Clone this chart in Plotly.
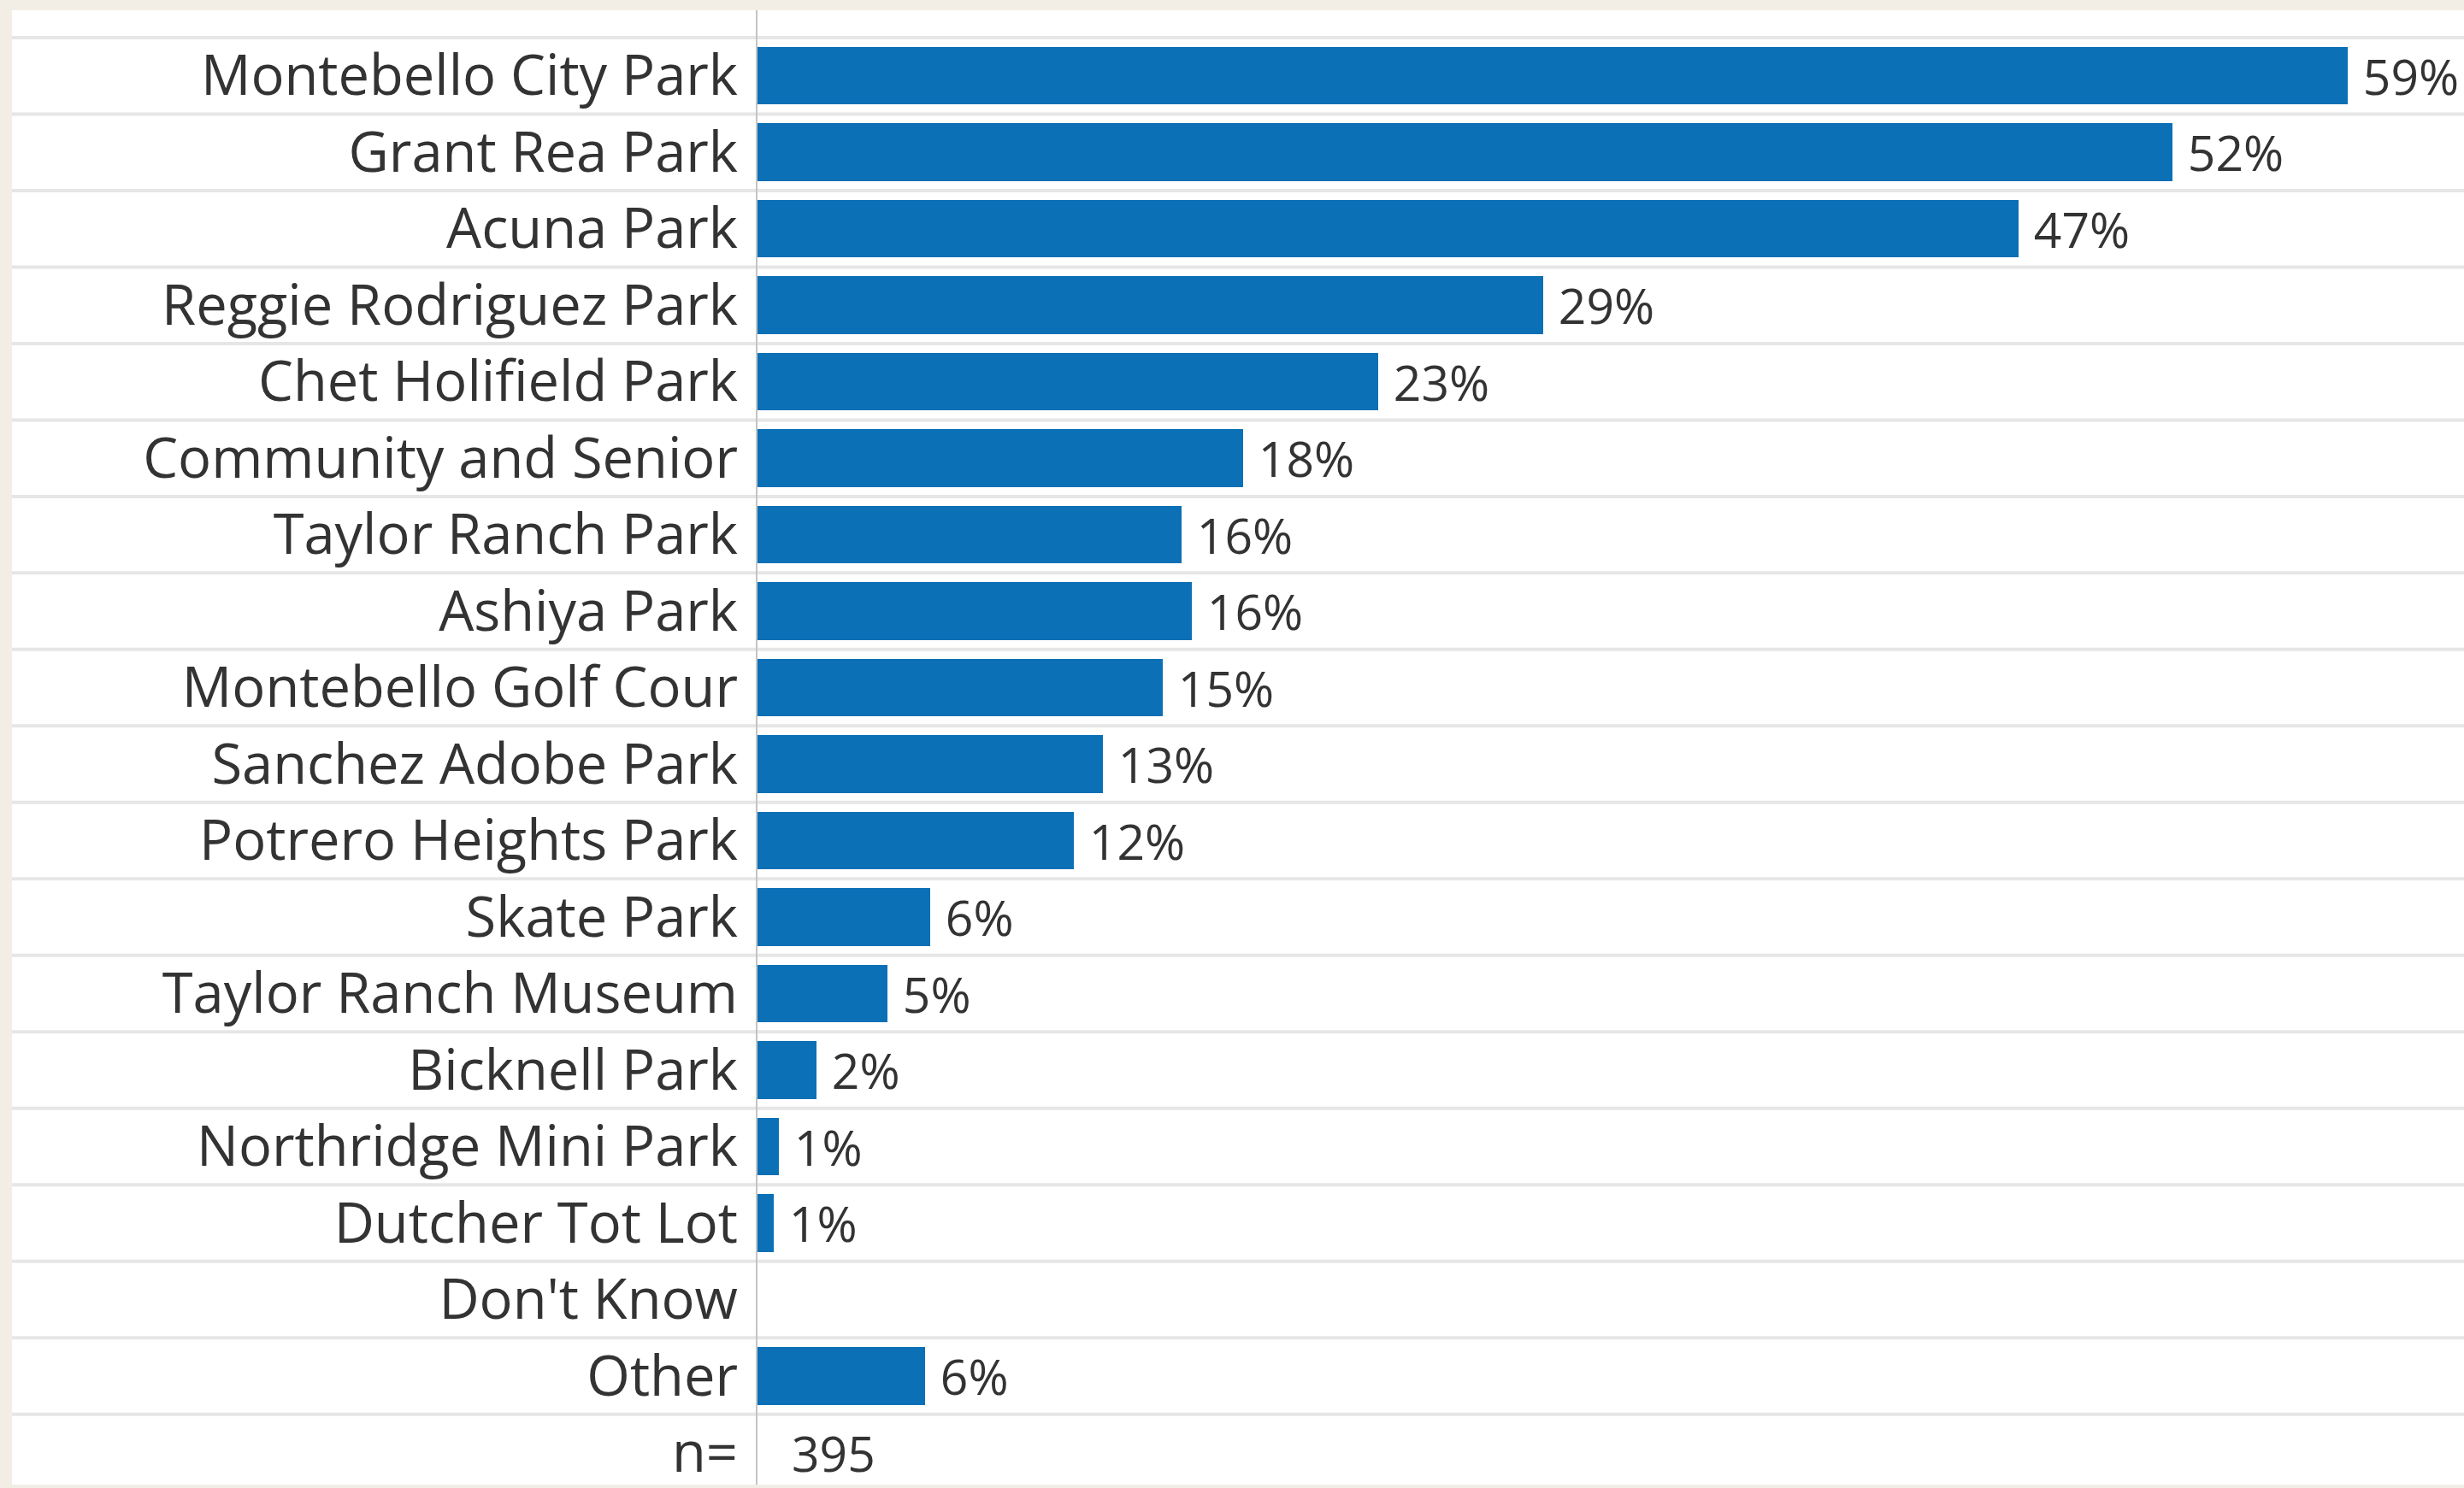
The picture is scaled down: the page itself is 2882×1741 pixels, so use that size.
import plotly.graph_objects as go

# categories, top to bottom
parks = [
    "Montebello City Park", "Grant Rea Park", "Acuna Park", "Reggie Rodriguez Park",
    "Chet Holifield Park", "Community and Senior", "Taylor Ranch Park", "Ashiya Park",
    "Montebello Golf Cour", "Sanchez Adobe Park", "Potrero Heights Park", "Skate Park",
    "Taylor Ranch Museum", "Bicknell Park", "Northridge Mini Park", "Dutcher Tot Lot",
    "Don't Know", "Other", "n=",
]
pct = [58.9, 52.4, 46.7, 29.1, 23.0, 18.0, 15.7, 16.1, 15.0, 12.8, 11.7, 6.4,
       4.8, 2.2, 0.8, 0.6, 0, 6.2, None]
pct_labels = ["59%", "52%", "47%", "29%", "23%", "18%", "16%", "16%", "15%", "13%",
              "12%", "6%", "5%", "2%", "1%", "1%", "", "6%", ""]
n_total = "395"

W, H = 2882, 1741
left, top = 886, 12
row_h = 89.7
panel_x = 14

bar_color = "#0B70B5"
text_color = "#333333"
grid_color = "#E6E6E6"

fig = go.Figure()
fig.add_trace(go.Bar(
    y=parks, x=pct, orientation="h",
    marker=dict(color=bar_color, line=dict(width=0)),
    width=0.755,
    text=["\u00a0" + t if t else "" for t in pct_labels],
    textposition="outside",
    textfont=dict(family="Open Sans", size=57, color=text_color),
    constraintext="none",
    cliponaxis=False,
    hoverinfo="skip",
))

plot_h = H - top
rows_visible = plot_h / row_h
y_top = -0.5 - (44 - top) / row_h

# white panel + row separators running under the labels too
x_panel = -(left - panel_x) / (W - left)
shapes = [dict(type="rect", xref="paper", yref="paper",
               x0=x_panel, x1=1, y0=0, y1=1,
               fillcolor="white", line=dict(width=0), layer="below")]
for k in range(len(parks)):
    shapes.append(dict(type="line", xref="paper", yref="y",
                       x0=x_panel, x1=1, y0=k - 0.5, y1=k - 0.5,
                       line=dict(color=grid_color, width=4), layer="below"))

fig.update_layout(
    width=W, height=H,
    margin=dict(l=left, r=0, t=top, b=0, pad=0),
    paper_bgcolor="#F2EEE6",
    plot_bgcolor="white",
    showlegend=False,
    bargap=0,
    shapes=shapes,
    font=dict(family="Open Sans", color=text_color),
)
fig.add_annotation(
    x=0, y="n=", xref="x", yref="y", text=n_total, showarrow=False,
    xanchor="left", xshift=38, font=dict(family="Open Sans", size=57, color=text_color),
)
fig.update_xaxes(range=[0, 63.2], visible=False, showgrid=False, zeroline=False)
fig.update_yaxes(
    type="category", categoryorder="array", categoryarray=parks,
    range=[y_top + rows_visible, y_top],
    showgrid=False, zeroline=False,
    showline=True, linecolor="#C4C4C4", linewidth=2,
    ticks="", ticklabelstandoff=8,
    tickfont=dict(family="Open Sans", size=65, color=text_color),
)

fig.write_html("out.html", config={"displayModeBar": False},
               post_script="document.body.style.margin='0';")
